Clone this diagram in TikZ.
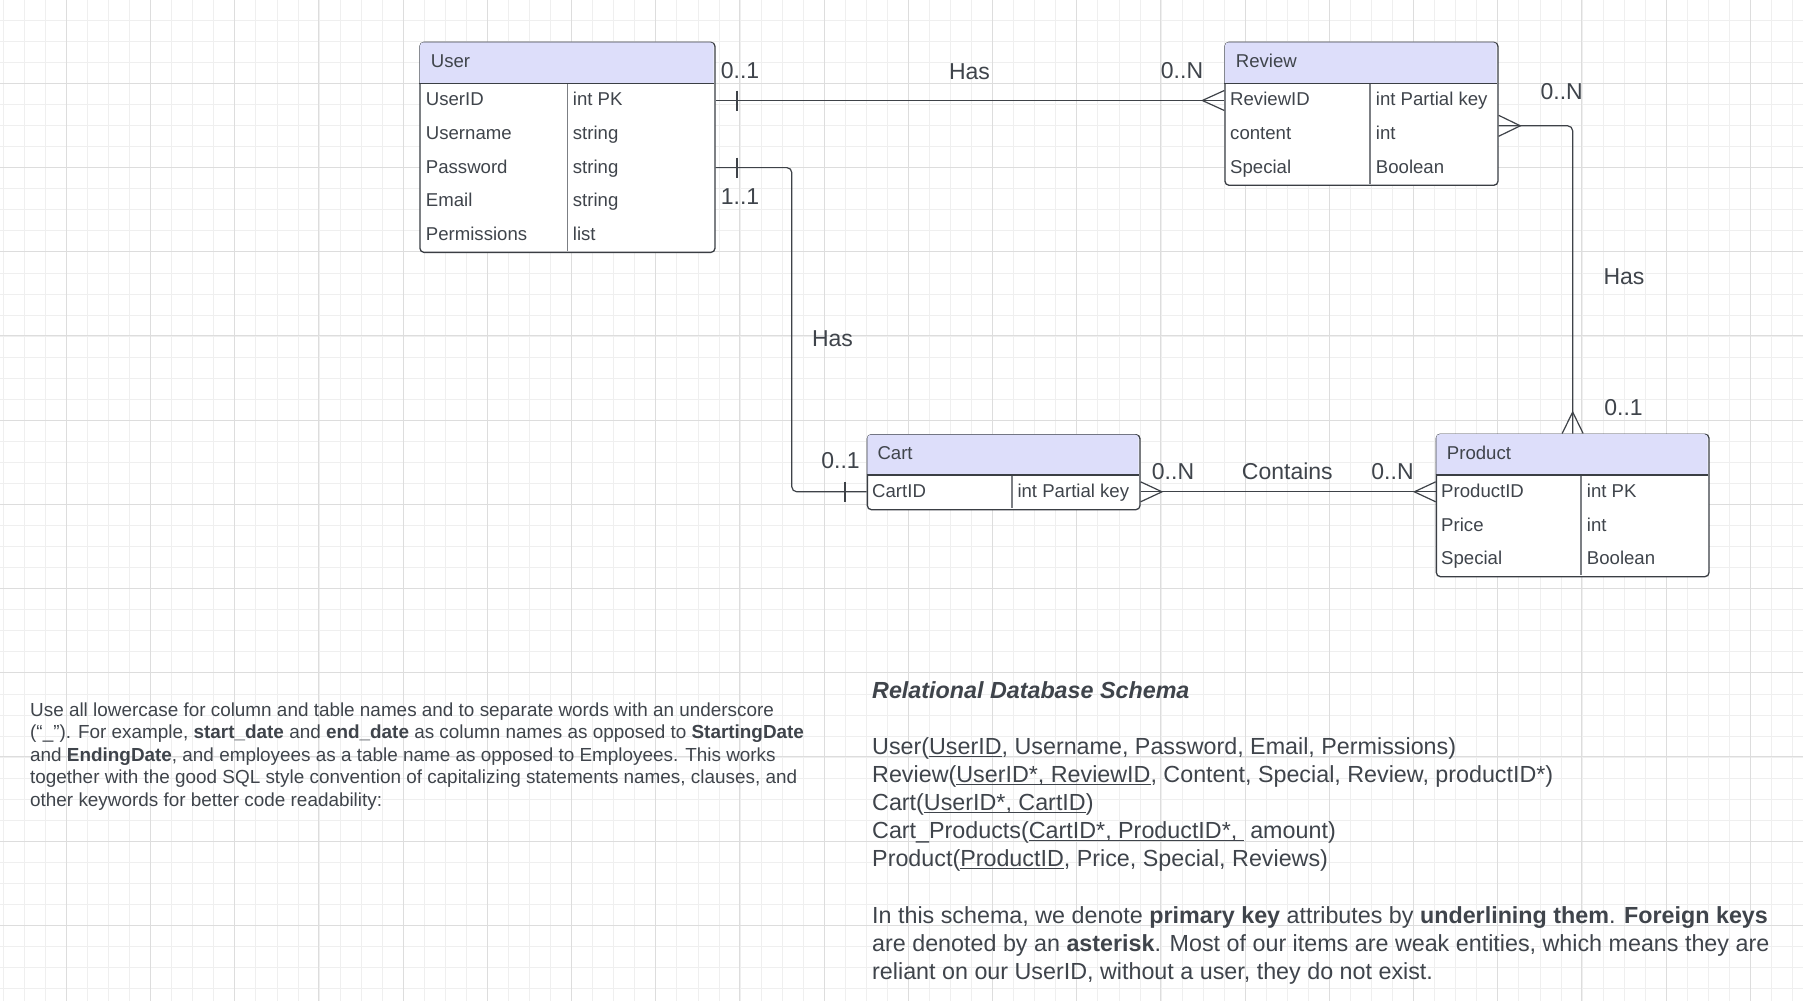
\documentclass[tikz,border=0pt]{standalone}
\usepackage{fontspec}
\setmainfont{Liberation Sans}
\definecolor{gminorc}{RGB}{239,239,239}
\definecolor{gmajorc}{RGB}{221,221,221}
\definecolor{textc}{HTML}{3F444B}
\definecolor{linec}{HTML}{3A3E44}
\definecolor{connc}{HTML}{3E4248}
\definecolor{divc}{HTML}{7C7F84}
\definecolor{hdrc}{RGB}{221,222,250}
\newcommand{\uln}[1]{\setbox0\hbox{#1}\rlap{\rule[-2.6pt]{\wd0}{1.1pt}}\box0}
\begin{document}
\begin{tikzpicture}[x=1pt,y=-1pt,
  entity/.style={draw=linec, line width=1.3pt, fill=white, rounded corners=4pt, inner sep=0pt, anchor=north west},
  hdrfill/.style={fill=hdrc},
  hline/.style={draw=linec, line width=1.3pt},
  divline/.style={draw=divc, line width=1.4pt},
  tt/.style={font=\fontsize{18.6}{22}\selectfont, text=textc, inner sep=0pt, text height=13.3pt, text depth=0pt, anchor=west},
  lbl/.style={font=\fontsize{23}{27}\selectfont, text=textc, inner sep=0pt, text height=16.5pt, text depth=0pt},
  conn/.style={draw=connc, line width=1.2pt},
  para/.style={font=\fontsize{18.9}{22.5}\selectfont, text=textc, inner sep=0pt, anchor=base west},
  sch/.style={font=\fontsize{23.3}{28}\selectfont, text=textc, inner sep=0pt, anchor=base west},
  gminor/.style={draw=gminorc, line width=0.9pt},
  gmajor/.style={draw=gmajorc, line width=0.9pt}
]
\useasboundingbox (0,0) rectangle (1803,1001);
\fill[white] (0,0) rectangle (1803,1001);
% grid
\foreach \i in {0,...,85} \draw[gminor] ({3.3+21.05*\i},0) -- ({3.3+21.05*\i},1001);
\foreach \j in {0,...,47} \draw[gminor] (0,{-0.7+21.05*\j}) -- (1803,{-0.7+21.05*\j});
\foreach \i in {0,...,20} \draw[gmajor] ({66.3+84.2*\i},0) -- ({66.3+84.2*\i},1001);
\foreach \j in {0,...,10} \draw[gmajor] (0,{83.3+84.2*\j}) -- (1803,{83.3+84.2*\j});

% ===== User =====
\node[entity, minimum width=295pt, minimum height=210pt] (user) at (419.3,41.7) {};
\fill[hdrfill] (419.95,83.3) [rounded corners=3.4pt] -- (419.95,42.35) -- (713.65,42.35) [sharp corners] -- (713.65,83.3) -- cycle;
\draw[hline] (419.3,83.3) -- (714.3,83.3);
\draw[divline] (567.3,84) -- (567.3,251);
\node[tt] (uh) at (430.7,60.9) {User};
\node[tt] (u1) at (425.7,99.2) {UserID};
\node[tt] (u2) at (425.7,132.9) {Username};
\node[tt] (u3) at (425.7,166.6) {Password};
\node[tt] (u4) at (425.7,200.3) {Email};
\node[tt] (u5) at (425.7,234) {Permissions};
\node[tt] (u1t) at (572.7,99.2) {int PK};
\node[tt] (u2t) at (572.7,132.9) {string};
\node[tt] (u3t) at (572.7,166.6) {string};
\node[tt] (u4t) at (572.7,200.3) {string};
\node[tt] (u5t) at (572.7,234) {list};

% ===== Review =====
\node[entity, minimum width=273pt, minimum height=142.9pt] (review) at (1224.3,41.7) {};
\fill[hdrfill] (1224.95,83.3) [rounded corners=3.4pt] -- (1224.95,42.35) -- (1496.65,42.35) [sharp corners] -- (1496.65,83.3) -- cycle;
\draw[hline] (1224.3,83.3) -- (1497.3,83.3);
\draw[divline] (1370,84) -- (1370,184);
\node[tt] (rh) at (1235.7,60.9) {Review};
\node[tt] (rv1) at (1230,99.2) {ReviewID};
\node[tt] (rv2) at (1230,132.9) {content};
\node[tt] (rv3) at (1230,166.6) {Special};
\node[tt] (rv1t) at (1375.7,99.2) {int Partial key};
\node[tt] (rv2t) at (1375.7,132.9) {int};
\node[tt] (rv3t) at (1375.7,166.6) {Boolean};

% ===== Cart =====
\node[entity, minimum width=272.6pt, minimum height=75pt] (cart) at (866.7,434) {};
\fill[hdrfill] (867.35,475) [rounded corners=3.4pt] -- (867.35,434.65) -- (1138.65,434.65) [sharp corners] -- (1138.65,475) -- cycle;
\draw[hline] (866.7,475) -- (1139.3,475);
\draw[divline] (1012,475.7) -- (1012,508.3);
\node[tt] (ch) at (877.3,452.5) {Cart};
\node[tt] (c1) at (872,491.2) {CartID};
\node[tt] (c1t) at (1017.3,491.2) {int Partial key};

% ===== Product =====
\node[entity, minimum width=272.6pt, minimum height=142.5pt] (product) at (1435.7,433.5) {};
\fill[hdrfill] (1436.35,475) [rounded corners=3.4pt] -- (1436.35,434.15) -- (1707.65,434.15) [sharp corners] -- (1707.65,475) -- cycle;
\draw[hline] (1435.7,475) -- (1708.3,475);
\draw[divline] (1581,475.7) -- (1581,575.3);
\node[tt] (ph) at (1446.7,452.5) {Product};
\node[tt] (p1) at (1441,491.2) {ProductID};
\node[tt] (p2) at (1441,524.6) {Price};
\node[tt] (p3) at (1441,558.3) {Special};
\node[tt] (p1t) at (1586.7,491.2) {int PK};
\node[tt] (p2t) at (1586.7,524.6) {int};
\node[tt] (p3t) at (1586.7,558.3) {Boolean};

% ===== connectors =====
% User -- Review (Has)
\coordinate (uA) at (user.east |- 0,100.5);
\coordinate (rA) at (review.west |- 0,100.5);
\draw[conn] (uA) -- (rA);
\draw[conn] ([xshift=21.4pt,yshift=10pt]uA) -- ([xshift=21.4pt,yshift=-10pt]uA);
\draw[conn] ([yshift=10pt]rA) -- ([xshift=-22pt]rA) -- ([yshift=-10pt]rA);
% User -- Cart (Has)
\coordinate (uB) at (user.east |- 0,167.6);
\coordinate (cA) at (cart.west |- 0,491.8);
\draw[conn, rounded corners=5pt] (uB) -- ++(76.2,0) |- (cA);
\draw[conn] ([xshift=21.4pt,yshift=10pt]uB) -- ([xshift=21.4pt,yshift=-10pt]uB);
\draw[conn] ([xshift=-21.7pt,yshift=10pt]cA) -- ([xshift=-21.7pt,yshift=-10pt]cA);
% Cart -- Product (Contains)
\coordinate (cB) at (cart.east |- cA);
\coordinate (pA) at (product.west |- cA);
\draw[conn] (cB) -- (pA);
\draw[conn] ([yshift=10pt]cB) -- ([xshift=21.4pt]cB) -- ([yshift=-10pt]cB);
\draw[conn] ([yshift=10pt]pA) -- ([xshift=-21.4pt]pA) -- ([yshift=-10pt]pA);
% Review -- Product (Has)
\coordinate (rB) at ([yshift=-12pt]review.east);
\coordinate (pB) at (product.north);
\draw[conn, rounded corners=5pt] (rB) -| (pB);
\draw[conn] ([yshift=10.5pt]rB) -- ([xshift=21.7pt]rB) -- ([yshift=-10.5pt]rB);
\draw[conn] ([xshift=-10.5pt]pB) -- ([yshift=21.5pt]pB) -- ([xshift=10.5pt]pB);

% ===== labels =====
\node[lbl] (la1) at (740,70.7) {0..1};
\node[lbl] (la2) at (969.5,71) {Has};
\node[lbl] (la3) at (1182,70.7) {0..N};
\node[lbl] (lb1) at (740,196.7) {1..1};
\node[lbl] (lb2) at (832.5,338) {Has};
\node[lbl] (lb3) at (840.5,460.7) {0..1};
\node[lbl] (lc1) at (1173,471.5) {0..N};
\node[lbl] (lc2) at (1287.3,471.5) {Contains};
\node[lbl] (lc3) at (1392.5,471) {0..N};
\node[lbl] (ld1) at (1561.7,91.7) {0..N};
\node[lbl] (ld2) at (1624,276) {Has};
\node[lbl] (ld3) at (1623.5,407.7) {0..1};

% ===== left paragraph =====
\node[para] (t1) at (30,716.2) {Use all lowercase for column and table names and to separate words with an underscore};
\node[para] (t2) at (30,738.65) {(“\_”). For example, \textbf{start\_date} and \textbf{end\_date} as column names as opposed to \textbf{StartingDate}};
\node[para] (t3) at (30,761.1) {and \textbf{EndingDate}, and employees as a table name as opposed to Employees. This works};
\node[para] (t4) at (30,783.55) {together with the good SQL style convention of capitalizing statements names, clauses, and};
\node[para] (t5) at (30,806) {other keywords for better code readability:};

% ===== schema text =====
\node[sch] (s0) at (872,698) {\textbf{\textit{Relational Database Schema}}};
\node[sch] (s1) at (872,754.2) {User(\uln{UserID}, Username, Password, Email, Permissions)};
\node[sch] (s2) at (872,782.4) {Review(\uln{UserID*, ReviewID}, Content, Special, Review, productID*)};
\node[sch] (s3) at (872,810.5) {Cart(\uln{UserID*, CartID})};
\node[sch] (s4) at (872,838.6) {Cart\_Products(\uln{CartID*, ProductID*,\ }\ amount)};
\node[sch] (s5) at (872,866.7) {Product(\uln{ProductID}, Price, Special, Reviews)};
\node[sch] (s6) at (872,923) {In this schema, we denote \textbf{primary key} attributes by \textbf{underlining them}. \textbf{Foreign keys}};
\node[sch] (s7) at (872,951.1) {are denoted by an \textbf{asterisk}. Most of our items are weak entities, which means they are};
\node[sch] (s8) at (872,979.2) {reliant on our UserID, without a user, they do not exist.};
\end{tikzpicture}
\end{document}
